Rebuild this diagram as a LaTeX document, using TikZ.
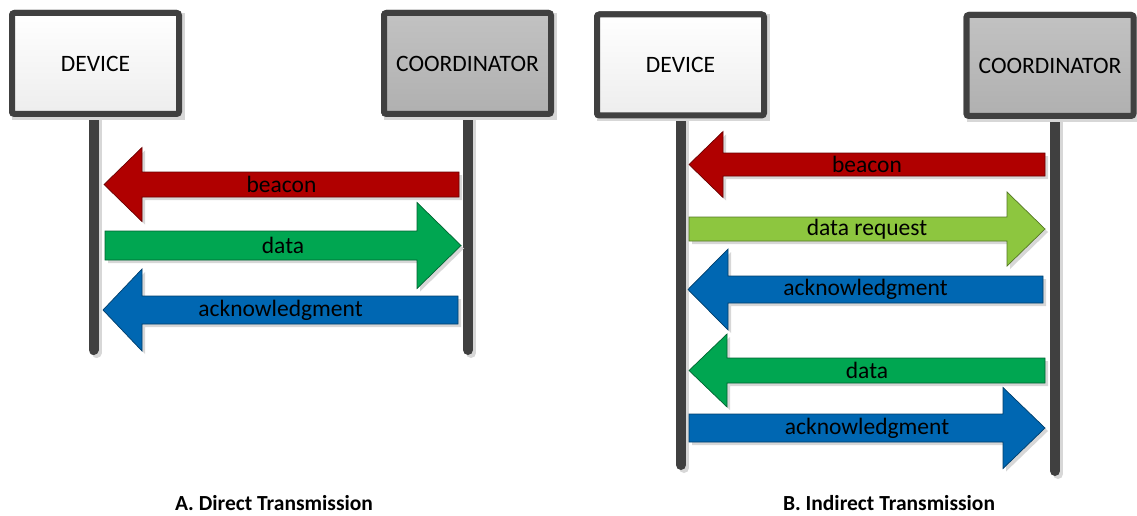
\documentclass[tikz,border=0pt]{standalone}
\usepackage{fontspec}
\setmainfont{Carlito}
\definecolor{edgegray}{RGB}{64,64,64}
\definecolor{arrred}{RGB}{176,0,0}
\definecolor{arrgreen}{RGB}{0,166,81}
\definecolor{arrlgreen}{RGB}{141,198,63}
\definecolor{arrblue}{RGB}{0,103,178}
\definecolor{shadowgray}{RGB}{215,215,215}
\tikzset{
  actor/.style={draw=edgegray, line width=6pt, rounded corners=2.5pt,
    minimum width=167pt, minimum height=101pt, inner sep=0pt,
    font=\fontsize{23.5}{28}\selectfont},
  devicebox/.style={actor, top color=white, bottom color=black!7},
  coordbox/.style={actor, top color=black!24, bottom color=black!31},
  lifeline/.style={draw=edgegray, line width=10pt, line cap=round},
  lifeshadow/.style={draw=shadowgray, line width=10pt, line cap=round},
  msglabel/.style={font=\fontsize{23.5}{28}\selectfont, inner sep=0pt},
  caption/.style={font=\fontsize{21.5}{26}\selectfont\bfseries, inner sep=0pt}
}
% #1 tail x, #2 head-base x, #3 tip x, #4 centre y, #5 head half height,
% #6 shaft half height, #7 colour, #8 name, #9 label
\newcommand{\msgarrow}[9]{%
  \fill[shadowgray] ([shift={(3,3)}]{#1},{#4-#6}) -- ([shift={(3,3)}]{#2},{#4-#6}) -- ([shift={(3,3)}]{#2},{#4-#5})
     -- ([shift={(3,3)}]{#3},{#4}) -- ([shift={(3,3)}]{#2},{#4+#5}) -- ([shift={(3,3)}]{#2},{#4+#6})
     -- ([shift={(3,3)}]{#1},{#4+#6}) -- cycle;
  \filldraw[fill=#7, draw=#7!60!black, line width=0.7pt, line join=miter]
     ({#1},{#4-#6}) -- ({#2},{#4-#6}) -- ({#2},{#4-#5}) -- ({#3},{#4})
     -- ({#2},{#4+#5}) -- ({#2},{#4+#6}) -- ({#1},{#4+#6}) -- cycle;
  \node[msglabel] (#8) at ({(#1+#3)/2},{#4}) {#9};%
}
\begin{document}
\begin{tikzpicture}[x=1pt,y=-1pt]
\useasboundingbox (0,0) rectangle (1137,516);
% ---------- A. Direct transmission ----------
\coordinate (devAend) at (93.5,350);
\coordinate (coordAend) at (468,350);
\node[devicebox] (devA) at (95.5,63.5) {DEVICE};
\node[coordbox] (coordA) at (467.5,63.5) {COORDINATOR};
\draw[lifeshadow] ([shift={(3,0)}]devA.south -| devAend) -- ([shift={(3,3)}]devAend);
\draw[lifeshadow] ([shift={(3,0)}]coordA.south -| coordAend) -- ([shift={(3,3)}]coordAend);
\draw[lifeline] (devA.south -| devAend) -- (devAend);
\draw[lifeline] (coordA.south -| coordAend) -- (coordAend);
\fill[shadowgray] ([shift={(3,3)}]devA.south west) rectangle ([shift={(3,3)}]devA.north east);
\node[devicebox] at (devA) {DEVICE};
\fill[shadowgray] ([shift={(3,3)}]coordA.south west) rectangle ([shift={(3,3)}]coordA.north east);
\node[coordbox] at (coordA) {COORDINATOR};

\msgarrow{459}{142}{104}{184.5}{37}{12.5}{arrred}{a1}{beacon}
\msgarrow{105}{417}{461}{245.5}{43}{14.5}{arrgreen}{a2}{data}
\msgarrow{458}{142}{103}{310}{41}{14}{arrblue}{a3}{acknowledgment}

\node[caption] (capA) at (274,503) {A. Direct Transmission};

% ---------- B. Indirect transmission ----------
\coordinate (devBend) at (681,465);
\coordinate (coordBend) at (1055,471);
\node[devicebox] (devB) at (680.5,65) {DEVICE};
\node[coordbox] (coordB) at (1050,65.5) {COORDINATOR};
\draw[lifeshadow] ([shift={(3,0)}]devB.south -| devBend) -- ([shift={(3,3)}]devBend);
\draw[lifeshadow] ([shift={(3,0)}]coordB.south -| coordBend) -- ([shift={(3,3)}]coordBend);
\draw[lifeline] (devB.south -| devBend) -- (devBend);
\draw[lifeline] (coordB.south -| coordBend) -- (coordBend);
\fill[shadowgray] ([shift={(3,3)}]devB.south west) rectangle ([shift={(3,3)}]devB.north east);
\node[devicebox] at (devB) {DEVICE};
\fill[shadowgray] ([shift={(3,3)}]coordB.south west) rectangle ([shift={(3,3)}]coordB.north east);
\node[coordbox] at (coordB) {COORDINATOR};

\msgarrow{1045}{723}{689}{164.5}{33}{11.5}{arrred}{b1}{beacon}
\msgarrow{689}{1007}{1045}{229}{37}{12}{arrlgreen}{b2}{data request}
\msgarrow{1043}{728}{688}{289.5}{40.5}{13.5}{arrblue}{b3}{acknowledgment}
\msgarrow{1045}{727}{689}{370.5}{36.5}{12.5}{arrgreen}{b4}{data}
\msgarrow{689}{1003}{1045}{428}{40.5}{14}{arrblue}{b5}{acknowledgment}

\node[caption] (capB) at (889,503) {B. Indirect Transmission};
\end{tikzpicture}
\end{document}
